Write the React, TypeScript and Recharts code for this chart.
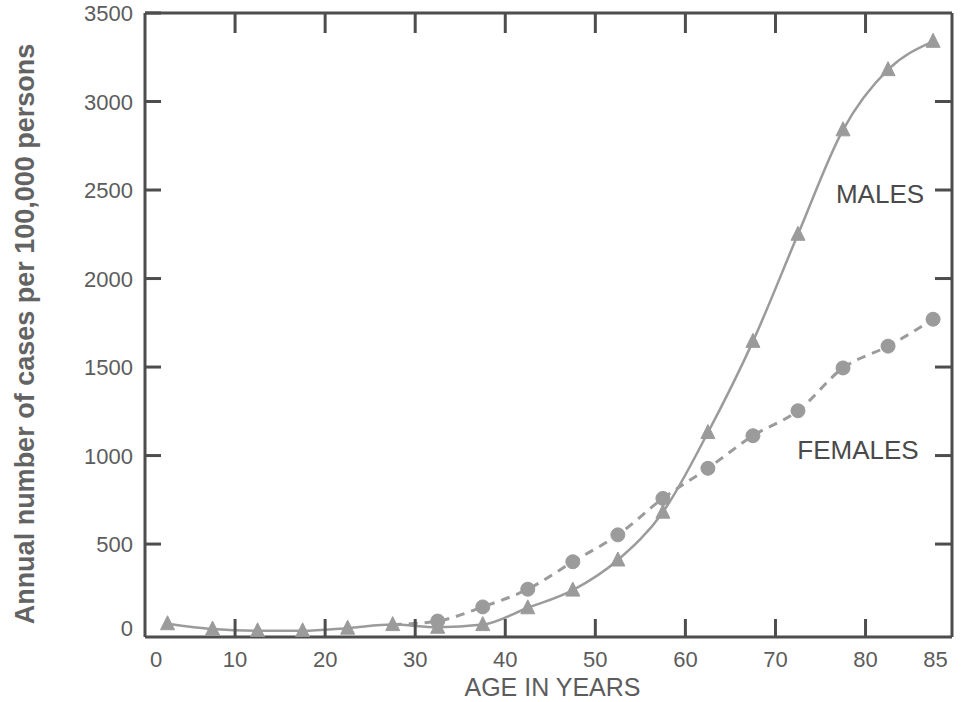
import React from 'react';
import { LineChart, Line, XAxis, YAxis, ReferenceDot } from 'recharts';

const ages = [2.5, 7.5, 12.5, 17.5, 22.5, 27.5, 32.5, 37.5, 42.5, 47.5, 52.5, 57.5, 62.5, 67.5, 72.5, 77.5, 82.5, 87.5];
const males = [50, 20, 10, 10, 25, 45, 30, 45, 140, 240, 410, 680, 1130, 1645, 2250, 2840, 3180, 3340];
const females: (number | null)[] = [null, null, null, null, null, 45, 65, 145, 245, 400, 552, 758, 928, 1112, 1253, 1495, 1618, 1770];

const xTicks = [0, 10, 20, 30, 40, 50, 60, 70, 80, 85];
const xTopTicks = [10, 20, 30, 40, 50, 60, 70, 80];
const yTicks = [0, 500, 1000, 1500, 2000, 2500, 3000, 3500];
const yRightTicks = [500, 1000, 1500, 2000, 2500, 3000];

const data = ages.map((a, i) => ({ age: a, males: males[i], females: females[i] }));

const AXIS = '#4d4d4d';
const LINE = '#9b9b9b';
const TEXT = '#5c5c5c';
const FONT = '"Liberation Sans", Arial, Helvetica, sans-serif';

const BottomTick = (props: any) => {
  const { x, y, payload } = props;
  const v = payload.value;
  const dx = v === 0 ? 11 : v === 85 ? 25 : 0;
  return (
    <g>
      {v !== 0 && v !== 85 && <line x1={x} x2={x} y1={y} y2={y - 18} stroke={AXIS} strokeWidth={3} />}
      <text x={x + dx} y={y + 30} textAnchor="middle" fontSize={22} fill={TEXT} fontFamily={FONT}>{v}</text>
    </g>
  );
};

const TopTick = (props: any) => {
  const { x, y } = props;
  return <line x1={x} x2={x} y1={y} y2={y + 20} stroke={AXIS} strokeWidth={3} />;
};

const LeftTick = (props: any) => {
  const { x, y, payload } = props;
  const v = payload.value;
  return (
    <g>
      {v !== 0 && <line x1={x} x2={x + 16} y1={y} y2={y} stroke={AXIS} strokeWidth={3} />}
      <text x={x - 12} y={y + (v === 0 ? 3 : 8)} textAnchor="end" fontSize={22} fill={TEXT} fontFamily={FONT}>{v}</text>
    </g>
  );
};

const RightTick = (props: any) => {
  const { x, y } = props;
  return <line x1={x} x2={x - 17} y1={y} y2={y} stroke={AXIS} strokeWidth={3} />;
};

const Triangle = (props: any) => {
  const { cx, cy, index } = props;
  if (cx == null || cy == null) return <g key={index} />;
  const s = 7;
  return <path key={index} d={`M${cx},${cy - s - 1} L${cx + s},${cy + s - 1} L${cx - s},${cy + s - 1} Z`} fill={LINE} stroke={LINE} strokeWidth={1} />;
};

const Circle = (props: any) => {
  const { cx, cy, index, payload } = props;
  if (cx == null || cy == null || payload.age < 30) return <g key={index} />;
  return <circle key={index} cx={cx} cy={cy} r={7} fill={LINE} stroke={LINE} strokeWidth={1} />;
};

const YTitle = (props: any) => {
  const vb = props.viewBox || { x: 0, y: 13, width: 145, height: 624 };
  const x = vb.x + 34;
  const y = vb.y + vb.height / 2 + 9;
  return (
    <text x={x} y={y} transform={`rotate(-90, ${x}, ${y})`} textAnchor="middle" fontSize={27} fontWeight="bold" fill="#636363" fontFamily={FONT}>
      Annual number of cases per 100,000 persons
    </text>
  );
};

const XTitle = (props: any) => {
  const vb = props.viewBox || { x: 145, y: 637, width: 807, height: 65 };
  return (
    <text x={vb.x + vb.width / 2 + 4} y={vb.y + 59} textAnchor="middle" fontSize={25} fill={TEXT} fontFamily={FONT}>
      AGE IN YEARS
    </text>
  );
};

const makeNote = (text: string) => (props: any) => {
  const vb = props.viewBox || { x: 0, y: 0 };
  return (
    <text x={vb.x} y={vb.y} textAnchor="end" dominantBaseline="central" fontSize={26} fill="#4a4a4a" fontFamily={FONT}>
      {text}
    </text>
  );
};

export default function App() {
  return (
    <div style={{ position: 'absolute', left: 0, top: 0, width: 965, height: 702, background: '#fff' }}>
      <LineChart width={965} height={702} data={data} margin={{ top: 0, right: 0, bottom: 0, left: 0 }}>
        <XAxis
          xAxisId="bottom"
          dataKey="age"
          type="number"
          domain={[0, 89.6]}
          ticks={xTicks}
          interval={0}
          orientation="bottom"
          height={65}
          tickSize={0}
          tickMargin={0}
          tickLine={false}
          tick={<BottomTick />}
          axisLine={{ stroke: AXIS, strokeWidth: 3 }}
          label={<XTitle />}
          allowDataOverflow
        />
        <XAxis
          xAxisId="top"
          dataKey="age"
          type="number"
          domain={[0, 89.6]}
          ticks={xTopTicks}
          interval={0}
          orientation="top"
          height={13}
          tickSize={0}
          tickMargin={0}
          tickLine={false}
          tick={<TopTick />}
          axisLine={{ stroke: AXIS, strokeWidth: 3 }}
          allowDataOverflow
        />
        <YAxis
          yAxisId="left"
          type="number"
          domain={[-25, 3500]}
          ticks={yTicks}
          interval={0}
          orientation="left"
          width={145}
          tickSize={0}
          tickMargin={0}
          tickLine={false}
          tick={<LeftTick />}
          axisLine={{ stroke: AXIS, strokeWidth: 3 }}
          label={<YTitle />}
          allowDataOverflow
        />
        <YAxis
          yAxisId="right"
          type="number"
          domain={[-25, 3500]}
          ticks={yRightTicks}
          interval={0}
          orientation="right"
          width={13}
          tickSize={0}
          tickMargin={0}
          tickLine={false}
          tick={<RightTick />}
          axisLine={{ stroke: AXIS, strokeWidth: 3 }}
          allowDataOverflow
        />
        <Line
          xAxisId="bottom"
          yAxisId="left"
          type="monotone"
          dataKey="females"
          stroke={LINE}
          strokeWidth={3}
          strokeDasharray="9 7"
          dot={<Circle />}
          activeDot={false}
          connectNulls={false}
          isAnimationActive={false}
        />
        <Line
          xAxisId="bottom"
          yAxisId="left"
          type="monotone"
          dataKey="males"
          stroke={LINE}
          strokeWidth={2.5}
          dot={<Triangle />}
          activeDot={false}
          isAnimationActive={false}
        />
        <ReferenceDot xAxisId="bottom" yAxisId="left" x={86.5} y={2480} r={0} fill="none" stroke="none" ifOverflow="visible" label={makeNote('MALES')} />
        <ReferenceDot xAxisId="bottom" yAxisId="left" x={85.9} y={1030} r={0} fill="none" stroke="none" ifOverflow="visible" label={makeNote('FEMALES')} />
      </LineChart>
    </div>
  );
}
